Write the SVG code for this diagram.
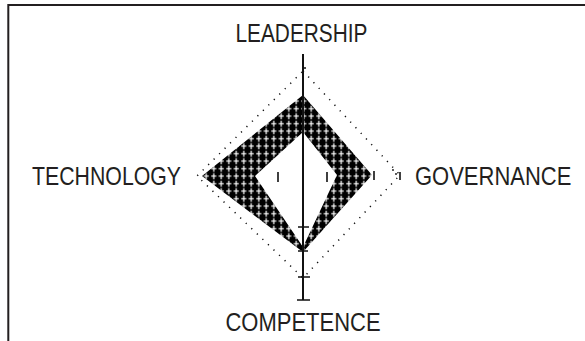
<svg xmlns="http://www.w3.org/2000/svg" width="585" height="341" viewBox="0 0 585 341">
<style>
.lbl{font-family:"Liberation Sans",Arial,sans-serif;font-size:25.5px;fill:#231f20}
.frame{stroke:#231f20;stroke-width:2;fill:none}
.axis{stroke:#111;stroke-width:2;fill:none}
.tick{stroke:#111;stroke-width:1.6;fill:none}
.dots{stroke:#111;stroke-width:1.5;fill:none;stroke-dasharray:1.2 6.5;stroke-linecap:butt}
.mark{stroke:#111;stroke-width:1.6;fill:none}
</style>
<defs>
<pattern id="cross" width="7.5" height="7.5" patternUnits="userSpaceOnUse">
<rect width="7.5" height="7.5" fill="#000"/>
<path d="M3.75 0.8 V6.7 M1.2 3.6 H6.3" stroke="#fff" stroke-width="1.2"/>
</pattern>
</defs>
<rect width="585" height="341" fill="#fff"/>
<g id="frame">
<path class="frame" d="M8.3 341 V5 H585"/>
</g>
<g id="chart">
<path class="dots" d="M303 71 L400 175 L303 278 L197 176 Z"/>
<path d="M303 95 L372 175 L303 252 L202 176 Z M303 132 L255 176 L303 247 L337 175 Z" fill="url(#cross)" fill-rule="evenodd"/>
<path class="mark" d="M278 172 V182 M327 172 V182 M374 171 V180 M400 172 V180"/>
<circle cx="393" cy="170" r="0.9" fill="#111"/>
<circle cx="396" cy="174" r="0.9" fill="#111"/>
</g>
<g id="connectors">
<path class="axis" d="M303 54 V300"/>
<path class="tick" d="M303 68 H306 M298 227 H309 M298 251 H308 M298 277 H310 M297 300 H310"/>
</g>
<g id="node-leadership">
<text class="lbl" transform="translate(235.5 41.5) scale(0.817 1)">LEADERSHIP</text>
</g>
<g id="node-technology">
<text class="lbl" transform="translate(32 185) scale(0.835 1)">TECHNOLOGY</text>
</g>
<g id="node-governance">
<text class="lbl" transform="translate(415 184.5) scale(0.863 1)">GOVERNANCE</text>
</g>
<g id="node-competence">
<text class="lbl" transform="translate(225.5 331) scale(0.862 1)">COMPETENCE</text>
</g>
</svg>
